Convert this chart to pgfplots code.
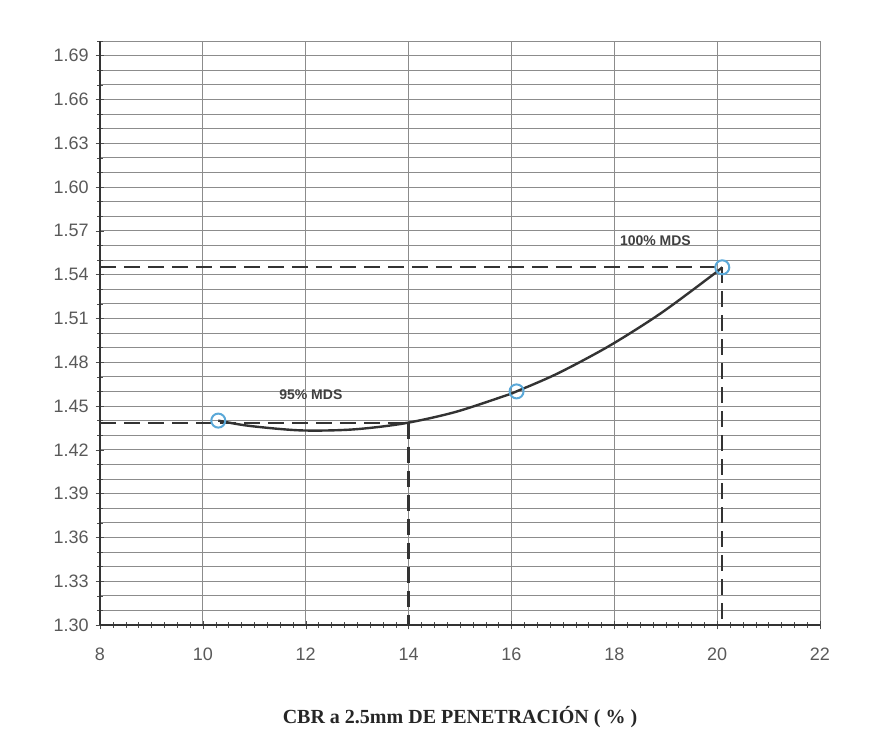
\documentclass[border=0pt]{standalone}
\usepackage{pgfplots}
\pgfplotsset{compat=1.18}
\usepackage{fontspec}
\setmainfont{Liberation Sans}
\newfontfamily\serifbf{Liberation Serif}
\definecolor{curvegray}{HTML}{333333}
\definecolor{markblue}{HTML}{5AA8D8}
\begin{document}
\begin{tikzpicture}
\begin{axis}[
  scale only axis,
  width=360pt, height=292pt,
  xmin=8, xmax=22, ymin=1.30, ymax=1.70,
  xtick={8,10,12,14,16,18,20,22},
  ytick={1.30,1.33,1.36,1.39,1.42,1.45,1.48,1.51,1.54,1.57,1.60,1.63,1.66,1.69},
  minor ytick={1.31,1.32,1.34,1.35,1.37,1.38,1.40,1.41,1.43,1.44,1.46,1.47,1.49,1.50,1.52,1.53,1.55,1.56,1.58,1.59,1.61,1.62,1.64,1.65,1.67,1.68,1.70},
  minor xtick={8.25,8.5,8.75,9,9.25,9.5,9.75,10.25,10.5,10.75,11,11.25,11.5,11.75,12.25,12.5,12.75,13,13.25,13.5,13.75,14.25,14.5,14.75,15,15.25,15.5,15.75,16.25,16.5,16.75,17,17.25,17.5,17.75,18.25,18.5,18.75,19,19.25,19.5,19.75,20.25,20.5,20.75,21,21.25,21.5,21.75},
  xmajorgrids, ymajorgrids, yminorgrids,
  major grid style={black!45, line width=0.5pt},
  minor grid style={black!45, line width=0.5pt},
  axis lines=left,
  axis line style={-, black!80, line width=0.9pt},
  tick style={black!70},
  /pgf/number format/assume math mode=true,
  y tick label style={/pgf/number format/.cd, fixed, fixed zerofill, precision=2},
  x tick label style={yshift=-6pt},
  tick label style={font=\small, text=black!65},
  xlabel={\serifbf\bfseries CBR a 2.5mm DE PENETRACIÓN ( \% )},
  xlabel style={font=\normalsize, text=black!85, yshift=-16pt},
  clip=false,
]
% 100% MDS dashed reference
\addplot[black!80, dashed, dash pattern=on 8pt off 4pt, line width=1.1pt] coordinates {(8,1.545) (20.1,1.545)};
\addplot[black!80, dashed, dash pattern=on 8pt off 4pt, line width=1.1pt] coordinates {(20.1,1.545) (20.1,1.30)};
% 95% MDS dashed reference
\addplot[black!80, dashed, dash pattern=on 8pt off 4pt, line width=1.1pt] coordinates {(8,1.4386) (14.0,1.4386)};
\addplot[black!80, dashed, dash pattern=on 8pt off 4pt, line width=1.1pt] coordinates {(14.0,1.4386) (14.0,1.30)};
% fitted curve
\addplot[curvegray, line width=1.2pt, smooth] coordinates {
(10.3,1.4400) (10.9,1.4364) (11.9,1.4333) (12.9,1.4339) (13.9,1.4380)
(14.9,1.4458) (15.9,1.4573) (16.1,1.4600) (16.9,1.4723) (17.9,1.4911)
(18.9,1.5134) (19.9,1.5394) (20.1,1.5450)};
% data points
\addplot[only marks, mark=o, mark size=3.5pt, markblue, line width=1pt] coordinates {
(10.3,1.440) (16.1,1.460) (20.1,1.545)};
\node[font=\scriptsize\bfseries, text=black!75] at (axis cs:12.1,1.458) {95\% MDS};
\node[font=\scriptsize\bfseries, text=black!75] at (axis cs:18.8,1.563) {100\% MDS};
\end{axis}
\path (current axis.south west) ++(-50pt,-65.5pt) rectangle ++(434.5pt,378pt);
\end{tikzpicture}
\end{document}
